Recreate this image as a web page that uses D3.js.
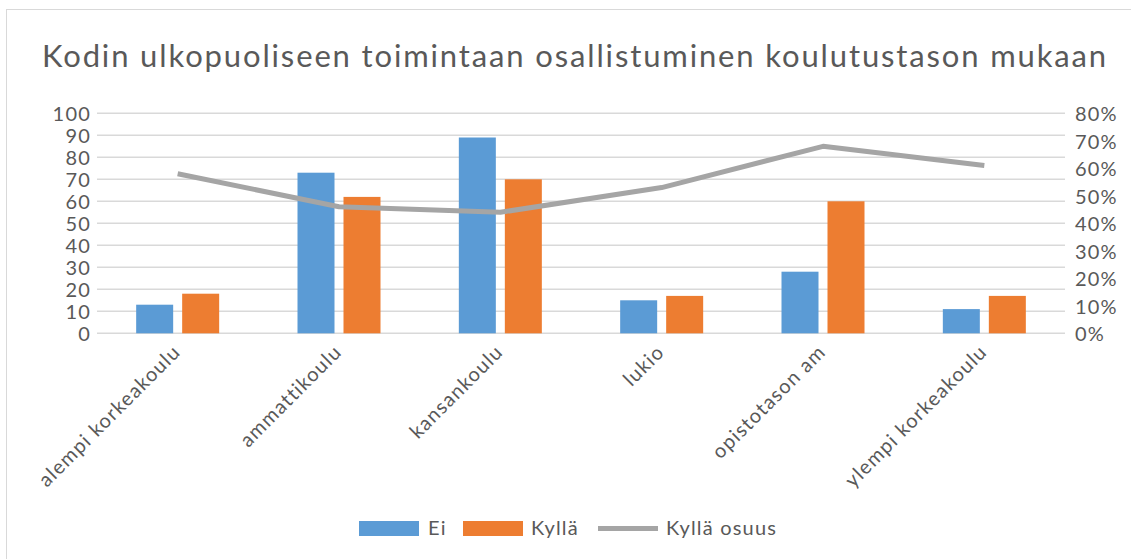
<!DOCTYPE html>
<html>
<head>
<meta charset="utf-8">
<script src="https://cdn.jsdelivr.net/npm/d3@7"></script>
<style>
  body { margin: 0; background: #fff; }
  text { font-family: Lato, Carlito, "Open Sans", sans-serif; fill: #595959; letter-spacing: 0.06em; }
</style>
</head>
<body>
<div id="chart"></div>
<script>

// data
const categories = ["alempi korkeakoulu", "ammattikoulu", "kansankoulu", "lukio", "opistotason am", "ylempi korkeakoulu"];
const ei = [13, 73, 89, 15, 28, 11];
const kylla = [18, 62, 70, 17, 60, 17];
const kyllaOsuus = [0.58, 0.46, 0.44, 0.53, 0.68, 0.61];
const leftTicks = [0, 10, 20, 30, 40, 50, 60, 70, 80, 90, 100];
const rightTicks = [0, 0.1, 0.2, 0.3, 0.4, 0.5, 0.6, 0.7, 0.8];

const width = 1131, height = 559;

let svg = d3.select("#chart")
            .append("svg")
            .attr("width", width)
            .attr("height", height);

// chart border
svg.append("rect")
   .attr("x", 6.5).attr("y", 9.5)
   .attr("width", width + 20).attr("height", height + 20)
   .attr("fill", "none")
   .attr("stroke", "#d9d9d9");

let plot = {left: 97, right: 1065, top: 113.3, bottom: 333.3};

let x = d3.scaleBand()
          .domain(categories)
          .range([plot.left, plot.right]);

let yL = d3.scaleLinear().domain([0, 100]).range([plot.bottom, plot.top]);
let yR = d3.scaleLinear().domain([0, 0.8]).range([plot.bottom, plot.top]);

// title
svg.append("text")
   .attr("x", 575).attr("y", 67)
   .attr("text-anchor", "middle")
   .style("font-size", "31px")
   .text("Kodin ulkopuoliseen toimintaan osallistuminen koulutustason mukaan");

// gridlines
svg.append("g")
   .selectAll("line")
   .data(leftTicks)
   .join("line")
   .attr("x1", plot.left).attr("x2", plot.right)
   .attr("y1", d => yL(d)).attr("y2", d => yL(d))
   .attr("stroke", "#d9d9d9")
   .attr("stroke-width", 1.5);

// left axis
let axL = svg.append("g")
   .attr("transform", `translate(${plot.left},0)`)
   .call(d3.axisLeft(yL).tickValues(leftTicks).tickSize(0).tickPadding(6));
axL.select(".domain").remove();
axL.selectAll("text").style("font-size", "20px").attr("fill", "#595959").attr("dy", "0.36em");

// right axis
let axR = svg.append("g")
   .attr("transform", `translate(${plot.right},0)`)
   .call(d3.axisRight(yR).tickValues(rightTicks).tickSize(0).tickPadding(10).tickFormat(d3.format(".0%")));
axR.select(".domain").remove();
axR.selectAll("text").style("font-size", "20px").attr("fill", "#595959").attr("dy", "0.36em");

// bars
let barW = 37, gap = 9;
let bars = svg.append("g");
bars.selectAll(".ei")
    .data(ei)
    .join("rect")
    .attr("x", (d, i) => x(categories[i]) + x.bandwidth() / 2 - gap / 2 - barW)
    .attr("y", d => yL(d))
    .attr("width", barW)
    .attr("height", d => yL(0) - yL(d))
    .attr("fill", "#5b9bd5");
bars.selectAll(".kylla")
    .data(kylla)
    .join("rect")
    .attr("x", (d, i) => x(categories[i]) + x.bandwidth() / 2 + gap / 2)
    .attr("y", d => yL(d))
    .attr("width", barW)
    .attr("height", d => yL(0) - yL(d))
    .attr("fill", "#ed7d31");

// line
let line = d3.line()
    .x((d, i) => x(categories[i]) + x.bandwidth() / 2)
    .y(d => yR(d));
svg.append("path")
   .datum(kyllaOsuus)
   .attr("d", line)
   .attr("fill", "none")
   .attr("stroke", "#a5a5a5")
   .attr("stroke-width", 5)
   .attr("stroke-linejoin", "round");

// x labels
svg.append("g")
   .selectAll("text")
   .data(categories)
   .join("text")
   .attr("transform", d => `translate(${x(d) + x.bandwidth() / 2 + 4},${plot.bottom + 20}) rotate(-45)`)
   .attr("text-anchor", "end")
   .style("font-size", "20px")
   .text(d => d);

// legend
let legend = svg.append("g");
legend.append("rect").attr("x", 359).attr("y", 521).attr("width", 60).attr("height", 15).attr("fill", "#5b9bd5");
legend.append("text").attr("x", 428).attr("y", 535).style("font-size", "20px").text("Ei");
legend.append("rect").attr("x", 463).attr("y", 521).attr("width", 60).attr("height", 15).attr("fill", "#ed7d31");
legend.append("text").attr("x", 531).attr("y", 535).style("font-size", "20px").text("Kyllä");
legend.append("line").attr("x1", 598).attr("x2", 658).attr("y1", 528.5).attr("y2", 528.5)
      .attr("stroke", "#a5a5a5").attr("stroke-width", 5);
legend.append("text").attr("x", 666).attr("y", 535).style("font-size", "20px").text("Kyllä osuus");

</script>
</body>
</html>
